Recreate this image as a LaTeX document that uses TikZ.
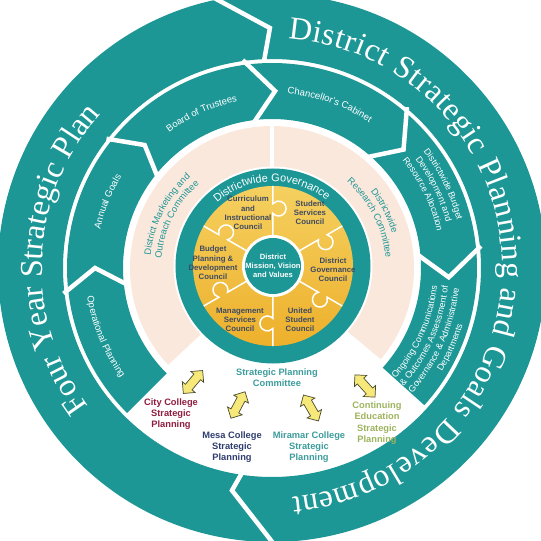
\documentclass[tikz,border=0pt]{standalone}
\usepackage{fontspec}
\setmainfont{Liberation Sans}
\newfontfamily\bigserif{Liberation Serif}
\usetikzlibrary{decorations.text,shapes.arrows}
\definecolor{teal1}{HTML}{1D9696}
\definecolor{peach}{HTML}{FBE8DC}
\definecolor{ylight}{HTML}{F5D060}
\definecolor{ydark}{HTML}{EDB02B}
\definecolor{puztext}{HTML}{3E4A62}
\definecolor{cityred}{HTML}{8E1D3E}
\definecolor{mesablue}{HTML}{2F3D6E}
\definecolor{miramar}{HTML}{3D9C9C}
\definecolor{contgreen}{HTML}{9DB45E}
\definecolor{arrowyel}{HTML}{F6E97A}
\definecolor{arrowedge}{HTML}{4A4A30}
% clockwise arc text (tops outward): radius, centre angle, half span, format, text
\newcommand\arcCW[5]{\path[decorate,decoration={text along path,text align=center,text={|#4|#5}}]
  ({#2+#3}:#1pt) arc[start angle={#2+#3},end angle={#2-#3},radius=#1pt];}
% counter-clockwise arc text (tops inward)
\newcommand\arcCCW[5]{\path[decorate,decoration={text along path,text align=center,text={|#4|#5}}]
  ({#2-#3}:#1pt) arc[start angle={#2-#3},end angle={#2+#3},radius=#1pt];}
\newcommand\midfont{\color{white}\fontsize{9.5}{9.5}\selectfont}
\newcommand\smallmid{\color{white}\fontsize{9}{9}\selectfont}
\newcommand\peachfont{\color{teal1}\fontsize{9.3}{9.3}\selectfont}
\newcommand\bigfont{\color{white}\bigserif\fontsize{32}{32}\selectfont}
\begin{document}
\begin{tikzpicture}[x=1pt,y=1pt,
  gap/.style={draw=white,line width=4.5pt,line join=miter,miter limit=20},
  puz/.style={align=center,font=\bfseries\fontsize{7.8}{9.2}\selectfont,text=puztext,inner sep=0pt},
  coll/.style={align=center,font=\bfseries\fontsize{9.3}{11.3}\selectfont,inner sep=0pt},
  dblarrow/.style={double arrow,fill=arrowyel,draw=arrowedge,line width=0.7pt,minimum height=30pt,double arrow head extend=4pt,inner sep=4pt}]
\useasboundingbox (-272,-273) rectangle (269,268);
\fill[white] (-272,-273) rectangle (269,268);
% outer ring
\fill[teal1,even odd rule] (0,0) circle[radius=274] (0,0) circle[radius=209];
\draw[gap] (103:280pt) -- (90.5:240pt) -- (92.4:204pt);
\draw[gap] (-98:204pt) -- (-100.2:226pt) -- (-89:280pt);
% middle ring
\fill[teal1] (-42:205pt) arc[start angle=-42,end angle=225,radius=205pt] -- (225:149pt) arc[start angle=225,end angle=-42,radius=149pt] -- cycle;
\foreach \b/\t in {187/180,142/136,98/89,50/42,6/-3} \draw[gap] (\b:210pt) -- (\t:177pt) -- (\b:144pt);
% peach ring
\fill[peach] (0,0) -- (90:142pt) arc[start angle=90,end angle=223,radius=142pt] -- cycle;
\fill[peach] (0,0) -- (-40:142pt) arc[start angle=-40,end angle=90,radius=142pt] -- cycle;
\draw[white,line width=4pt] (0,0) -- (90:145pt);
% big outer texts
\path[decorate,decoration={text along path,text align=fit to path,text={|\bigfont|District Strategic Planning and Goals Development}}]
  (86:230pt) arc[start angle=86,end angle=-85,radius=230pt];
\path[decorate,decoration={text along path,text align=fit to path,text={|\bigfont|Four Year Strategic Plan}}]
  (217:230pt) arc[start angle=217,end angle=138,radius=230pt];
% middle ring texts
\arcCW{170}{114.5}{40}{\midfont}{Board of Trustees}
\arcCW{175}{70.6}{40}{\midfont}{Chancellor's Cabinet}
\arcCW{176}{158}{40}{\midfont}{Annual Goals}
\arcCCW{187}{202.4}{40}{\midfont}{Operational Planning}
\arcCW{191}{26}{40}{\smallmid}{Districtwide Budget}
\arcCW{180}{26}{40}{\smallmid}{Development and}
\arcCW{169}{26}{40}{\smallmid}{Resource Allocation}
\arcCCW{166}{-24}{40}{\smallmid}{Ongoing Communications}
\arcCCW{177}{-24}{40}{\smallmid}{{\&} Outcomes Assessment of}
\arcCCW{188}{-24}{40}{\smallmid}{Governance {\&} Administrative}
\arcCCW{199}{-24}{40}{\smallmid}{Departments}
% peach texts
\arcCW{122}{153}{40}{\peachfont}{District Marketing and}
\arcCW{111}{153}{40}{\peachfont}{Outreach Committee}
\arcCW{125}{27}{40}{\peachfont}{Districtwide}
\arcCW{114}{27}{40}{\peachfont}{Research Committee}
% puzzle
\begin{scope}[shift={(1,2)}]
\fill[white] (0,0) circle[radius=99.5];
\fill[teal1] (0,0) circle[radius=97.5];
\shade[top color=ylight,bottom color=ydark] (0,0) circle[radius=80];
\foreach \a in {90,150,210,270,330,30}{
  \begin{scope}[rotate=\a]
  \draw[white,line width=1.5pt] (30,0) -- (52.5,0) arc[start angle=131.6,end angle=408.4,radius=7.5] -- (80,0);
  \end{scope}}
\fill[white] (0,0) circle[radius=31];
\fill[teal1] (0,0) circle[radius=28];
\node[puz,text=white,font=\bfseries\fontsize{7.6}{9}\selectfont] (mission) at (0,0) {District\\Mission, Vision\\and Values};
\node[puz] (cur) at (-25,53) {Curriculum\\and\\Instructional\\Council};
\node[puz] (ssc) at (37,53) {Student\\Services\\Council};
\node[puz] (bud) at (-60,3) {Budget\\Planning \&\\Development\\Council};
\node[puz] (dgc) at (60,-4) {District\\Governance\\Council};
\node[puz] (msc) at (-33,-54) {Management\\Services\\Council};
\node[puz] (usc) at (27,-54) {United\\Student\\Council};
\arcCW{84.5}{91}{60}{\color{white}\fontsize{11}{11}\selectfont}{Districtwide Governance}
\end{scope}
% bottom area
\node[coll,text=miramar] (spc) at (5,-110) {Strategic Planning\\Committee};
\node[coll,text=cityred] (city) at (-101,-146) {City College\\Strategic\\Planning};
\node[coll,text=mesablue] (mesa) at (-40,-179) {Mesa College\\Strategic\\Planning};
\node[coll,text=miramar] (mira) at (37,-179) {Miramar College\\Strategic\\Planning};
\node[coll,text=contgreen] (cont) at (105,-155) {Continuing\\Education\\Strategic\\Planning};
\node[dblarrow,rotate=50] (a1) at (-79,-114) {};
\node[dblarrow,rotate=62] (a2) at (-34,-137) {};
\node[dblarrow,rotate=-60] (a3) at (39,-140) {};
\node[dblarrow,rotate=-48] (a4) at (93,-118) {};
\end{tikzpicture}
\end{document}
